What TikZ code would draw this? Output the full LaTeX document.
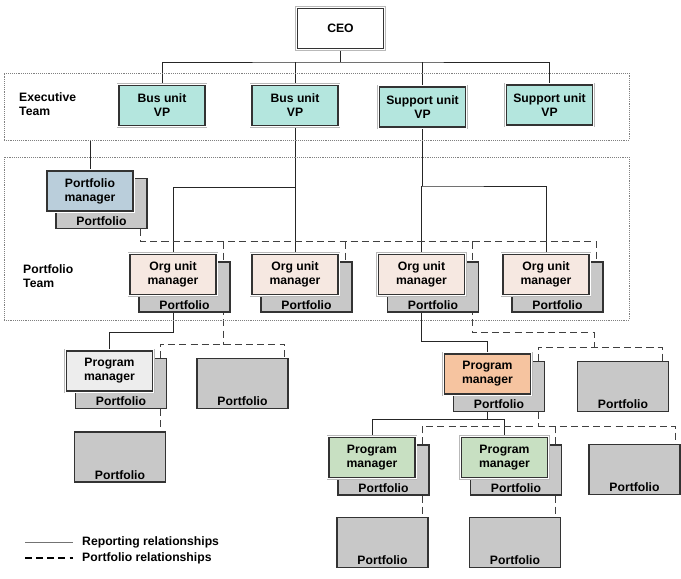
\documentclass[tikz,border=0pt]{standalone}
\usepackage{fontspec}
\setmainfont{Liberation Sans}
\usetikzlibrary{calc,backgrounds}
\definecolor{orgchartTeal}{RGB}{180,230,222}
\definecolor{orgchartSteel}{RGB}{186,206,219}
\definecolor{orgchartPeach}{RGB}{246,232,225}
\definecolor{orgchartOrange}{RGB}{246,196,160}
\definecolor{orgchartGreen}{RGB}{200,224,194}
\definecolor{orgchartGrey}{RGB}{200,200,200}
\colorlet{vpfill}{orgchartTeal}
\colorlet{pmfill}{orgchartSteel}
\colorlet{oufill}{orgchartPeach}
\colorlet{shadowgrey}{orgchartGrey}
\newcommand{\mgrunit}[5]{%
  \node[portbox] (#1p) at (#2+11.5,#3+12.5) {};
  \node[mgrbox,fill=#4] (#1) at (#2,#3) {#5};}

\begin{document}
\begin{tikzpicture}[x=0.03cm,y=-0.03cm,font=\fontsize{10.4}{12}\selectfont\bfseries,
  mgrbox/.style={draw=black!80,line width=0.9pt,minimum width=2.58cm,minimum height=1.2cm,align=center,inner sep=1pt,
    preaction={draw=gray!55,line width=4.2pt},preaction={draw=white,line width=2.6pt}},
  portbox/.style={draw=black!80,line width=0.9pt,fill=shadowgrey,minimum width=2.73cm,minimum height=1.5cm,
    label={[anchor=south,inner sep=2.5pt]south:Portfolio}},
  teamframe/.style={draw=gray,densely dotted,line width=0.6pt,minimum width=18.75cm},
  teamlabel/.style={align=left,anchor=west,inner sep=0pt},
  reprel/.style={draw=black!85,line width=0.8pt},
  portrel/.style={draw=black!75,line width=0.8pt,dash pattern=on 6pt off 3.5pt}]
\useasboundingbox (0,0) rectangle (681,578);
\node[teamframe,minimum height=2.01cm] (exec) at (316.5,106.5) {};
\node[teamframe,minimum height=4.89cm] (portteam) at (316.5,238.5) {};
\node[teamlabel] (exlbl) at (19,104.5) {Executive\\Team};
\node[teamlabel] (ptlbl) at (23,276.5) {Portfolio\\Team};
\node[mgrbox,fill=white] (ceo) at (340.5,28.5) {CEO};
\node[mgrbox,fill=vpfill] (bu1) at (162,105.5) {Bus unit\\VP};
\node[mgrbox,fill=vpfill] (bu2) at (295,105.5) {Bus unit\\VP};
\node[mgrbox,fill=vpfill] (su1) at (422.5,107) {Support unit\\VP};
\node[mgrbox,fill=vpfill] (su2) at (549.5,105) {Support unit\\VP};
\mgrunit{pm}{90}{191}{pmfill}{Portfolio\\manager}
\mgrunit{ou1}{173}{274.5}{oufill}{Org unit\\manager}
\mgrunit{ou2}{295}{274.5}{oufill}{Org unit\\manager}
\mgrunit{ou3}{421.5}{274.5}{oufill}{Org unit\\manager}
\mgrunit{ou4}{546}{274.5}{oufill}{Org unit\\manager}
\mgrunit{pg1}{109.5}{371}{black!7}{Program\\manager}
\mgrunit{pg2}{487.5}{374}{orgchartOrange}{Program\\manager}
\mgrunit{pg3}{372}{457.5}{orgchartGreen}{Program\\manager}
\mgrunit{pg4}{504.5}{457.5}{orgchartGreen}{Program\\manager}
\node[portbox] (pf1) at (242.5,383.5) {};
\node[portbox] (pf2) at (120,457) {};
\node[portbox] (pf3) at (623,386.5) {};
\node[portbox] (pf4) at (634.5,469.5) {};
\node[portbox] (pf5) at (382.5,542.5) {};
\node[portbox] (pf6) at (515,542.5) {};
\begin{scope}[on background layer]
\draw[reprel] (ceo.south) -- (ceo.south |- 0,62) coordinate (ceobus);
\draw[reprel] (bu1.north) |- (ceobus) -| (su2.north);
\draw[reprel] (bu2.north) -- (bu2.north |- ceobus);
\draw[reprel] (su1.north) -- (su1.north |- ceobus);
\draw[reprel] (pm.north) -- (pm.north |- exec.south);
\draw[reprel] (bu2.south) -- (bu2.south |- 0,187) coordinate (bu2bus);
\draw[reprel] (ou1.north) |- (bu2bus) -| (ou2.north);
\draw[reprel] (su1.south) -- (su1.south |- 0,186) coordinate (su1bus);
\draw[reprel] (ou3.north) |- (su1bus) -| (ou4.north);
\draw[reprel] (ou1) -- ++(0,58) -| (pg1.north);
\draw[reprel] (ou3) -- ++(0,66.5) -| (pg2.north);
\draw[reprel] (pg2) -- ++(0,45) coordinate (pg2bus);
\draw[reprel] (pg3.north) |- (pg2bus) -| (pg4.north);
\draw[portrel] ($(pmp.south east)+(-7,0)$) |- ($(ou4p.north east)+(-7,-20)$) -- ($(ou4p.north east)+(-7,0)$);
\draw[portrel] ($(ou2p.north east)+(-7,-20)$) -- ($(ou2p.north east)+(-7,0)$);
\draw[portrel] ($(ou1p.north east)+(-7,-20)$) -- ($(ou1p.south east)+(-7,32)$);
\draw[portrel] ($(pg1p.north east)+(-7,0)$) |- ($(pf1.north east)+(-4,-14)$) -- ($(pf1.north east)+(-4,0)$);
\draw[portrel] ($(pg1p.south east)+(-7,0)$) -- ($(pf2.north east)+(-6,0)$);
\draw[portrel] ($(ou3p.north east)+(-7,-20)$) |- ++(122,91) -- ++(0,15);
\draw[portrel] ($(pg2p.north east)+(-7,0)$) |- ($(pf3.north east)+(-7,-14)$) -- ($(pf3.north east)+(-7,0)$);
\draw[portrel] ($(pg2p.south east)+(-7,0)$) -- ++(0,14);
\draw[portrel] ($(pg3p.north east)+(-7,0)$) |- ($(pf4.north east)+(-5,-18)$) -- ($(pf4.north east)+(-5,0)$);
\draw[portrel] ($(pg4p.north east)+(-7,0)$) -- ++(0,-18);
\draw[portrel] ($(pg3p.south east)+(-7,0)$) -- ($(pf5.north east)+(-6,0)$);
\draw[portrel] ($(pg4p.south east)+(-7,0)$) -- ($(pf6.north east)+(-6,0)$);
\end{scope}
\node[teamlabel] (replbl) at (82,542) {Reporting relationships};
\node[teamlabel] (portlbl) at (82,558) {Portfolio relationships};
\coordinate (replg) at (25,542);
\coordinate (portlg) at (25,558);
\draw[reprel,draw=black!55,line width=0.6pt] (replg) -- ($(replbl.west)+(-9,0)$);
\draw[portrel,draw=black,line width=1pt] (portlg) -- ($(portlbl.west)+(-9,0)$);
\end{tikzpicture}
\end{document}
